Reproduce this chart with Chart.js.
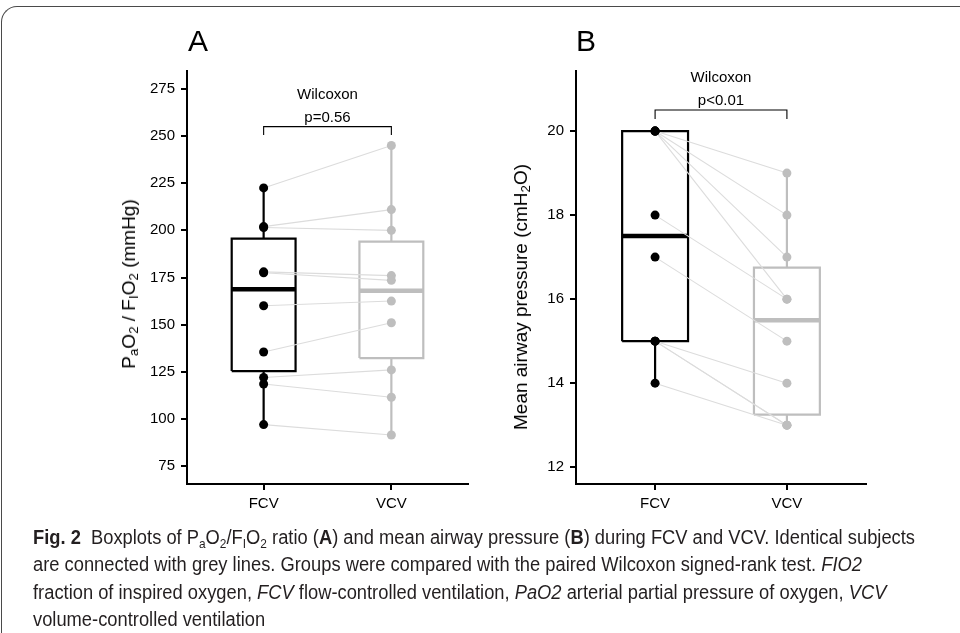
<!DOCTYPE html>
<html><head><meta charset="utf-8">
<script src="https://cdn.jsdelivr.net/npm/chart.js@4.4.1/dist/chart.umd.min.js"></script>
<style>
html,body{margin:0;padding:0;background:#fff;}
body{width:960px;height:633px;position:relative;overflow:hidden;font-family:"Liberation Sans",Arial,sans-serif;color:#000;}
.frame{position:absolute;left:1px;top:6px;width:1000px;height:700px;border-top:1.5px solid #4a4a4a;border-left:1.5px solid #4a4a4a;border-top-left-radius:16px;box-sizing:border-box;}
canvas{position:absolute;top:0;}
#cA{left:0;}
#cB{left:480px;}
.ptitle{position:absolute;font-size:30px;line-height:30px;transform:translate(-50%,-50%);}
.ytitle{position:absolute;font-size:19px;white-space:nowrap;transform:translate(-50%,-50%) rotate(-90deg);}
.ytitle sub{font-size:70%;vertical-align:-0.25em;line-height:0;}
.caption{position:absolute;left:33px;top:524px;font-family:"Liberation Sans Narrow","Liberation Sans",Arial,sans-serif;font-size:19.5px;line-height:27.3px;color:#231f20;}
.caption .ln{white-space:nowrap;transform-origin:0 50%;display:block;width:max-content;}
.caption sub{font-size:65%;vertical-align:-0.3em;line-height:0;}
</style>
</head><body>
<div class="frame"></div>
<canvas id="cA" width="480" height="530"></canvas>
<canvas id="cB" width="480" height="530"></canvas>
<div class="ptitle" style="left:198px;top:41px;">A</div>
<div class="ptitle" style="left:586px;top:41px;">B</div>
<div class="ytitle" style="left:129px;top:284px;">P<sub>a</sub>O<sub>2</sub> / F<sub>I</sub>O<sub>2</sub> (mmHg)</div>
<div class="ytitle" style="left:521px;top:297px;">Mean airway pressure (cmH<sub>2</sub>O)</div>
<div class="caption">
<span class="ln"><b>Fig. 2</b>&nbsp; Boxplots of P<sub>a</sub>O<sub>2</sub>/F<sub>I</sub>O<sub>2</sub> ratio (<b>A</b>) and mean airway pressure (<b>B</b>) during FCV and VCV. Identical subjects</span>
<span class="ln">are connected with grey lines. Groups were compared with the paired Wilcoxon signed-rank test. <i>FIO2</i></span>
<span class="ln">fraction of inspired oxygen, <i>FCV</i> flow-controlled ventilation, <i>PaO2</i> arterial partial pressure of oxygen, <i>VCV</i></span>
<span class="ln">volume-controlled ventilation</span>
</div>
<script>
// ---------- data ----------
const groups = ["FCV", "VCV"];
// Panel A: PaO2/FiO2 (mmHg), paired by subject
const pfFCV = [222.5, 202, 201.5, 178, 177.5, 160, 135.5, 122, 118.5, 97];
const pfVCV = [245, 211, 200, 176, 173.5, 162.5, 151, 126, 111.5, 91.5];
// Panel B: mean airway pressure (cmH2O), paired by subject
const pawFCV = [20, 20, 20, 20, 18, 17, 15, 15, 15, 14];
const pawVCV = [19, 18, 17, 16, 16, 15, 14, 13, 13, 13];
// tick labels
const ticksA = [75, 100, 125, 150, 175, 200, 225, 250, 275];
const ticksB = [12, 14, 16, 18, 20];
// test labels
const testName = "Wilcoxon";
const pLabelA = "p=0.56";
const pLabelB = "p<0.01";

// ---------- helpers ----------
function quantile(arr, q){
  const s = [...arr].sort((a,b)=>a-b);
  const pos = (s.length-1)*q, lo = Math.floor(pos), hi = Math.ceil(pos);
  return s[lo] + (s[hi]-s[lo])*(pos-lo);
}
function boxStats(arr){
  const q1 = quantile(arr,0.25), med = quantile(arr,0.5), q3 = quantile(arr,0.75);
  const iqr = q3-q1;
  const inside = arr.filter(v => v >= q1-1.5*iqr && v <= q3+1.5*iqr);
  return {q1, med, q3, lo: Math.min(...inside), hi: Math.max(...inside)};
}
const FONT = '"Liberation Sans", Arial, sans-serif';
const BLACK = '#000000', GREY = '#bebebe', LINEGREY = '#dcdcdc';

function buildDatasets(fcv, vcv, bracket){
  const ds = [];
  const colors = [BLACK, GREY];
  [fcv, vcv].forEach((vals, gi) => {
    const x = gi + 1, c = colors[gi], st = boxStats(vals), hw = 0.25;
    // box
    ds.push({type:'line', data:[{x:x-hw,y:st.q1},{x:x+hw,y:st.q1},{x:x+hw,y:st.q3},{x:x-hw,y:st.q3},{x:x-hw,y:st.q1}],
      borderColor:c, borderWidth:2.2, backgroundColor:'#ffffff', fill:false, pointRadius:0, order:5, borderJoinStyle:'miter', tension:0});
    // median
    ds.push({type:'line', data:[{x:x-hw,y:st.med},{x:x+hw,y:st.med}], borderColor:c, borderWidth:4.5, pointRadius:0, order:4, borderCapStyle:'butt'});
    // whiskers
    ds.push({type:'line', data:[{x:x,y:st.q3},{x:x,y:st.hi}], borderColor:c, borderWidth:2.2, pointRadius:0, order:4});
    ds.push({type:'line', data:[{x:x,y:st.q1},{x:x,y:st.lo}], borderColor:c, borderWidth:2.2, pointRadius:0, order:4});
  });
  // paired lines
  fcv.forEach((v,i) => {
    ds.push({type:'line', data:[{x:1,y:v},{x:2,y:vcv[i]}], borderColor:LINEGREY, borderWidth:1.1, pointRadius:0, order:3});
  });
  // points
  ds.push({type:'scatter', data:fcv.map(v=>({x:1,y:v})), backgroundColor:BLACK, borderColor:BLACK, pointRadius:4.5, borderWidth:0, order:1});
  ds.push({type:'scatter', data:vcv.map(v=>({x:2,y:v})), backgroundColor:GREY, borderColor:GREY, pointRadius:4.5, borderWidth:0, order:2});
  // significance bracket
  ds.push({type:'line', data:[{x:1,y:bracket.low},{x:1,y:bracket.high},{x:2,y:bracket.high},{x:2,y:bracket.low}],
    borderColor:BLACK, borderWidth:1.1, pointRadius:0, order:0, tension:0});
  return ds;
}

const annotPlugin = {
  id:'annot',
  afterDatasetsDraw(chart, args, opts){
    const {ctx, scales:{x,y}} = chart;
    const cx = x.getPixelForValue(1.5);
    const top = y.getPixelForValue(opts.bracketHigh);
    ctx.save();
    ctx.fillStyle = '#000';
    ctx.font = '15px ' + FONT;
    ctx.textAlign = 'center';
    ctx.textBaseline = 'middle';
    ctx.fillText(opts.p, cx, top - 9);
    ctx.fillText(opts.test, cx, top - 32);
    ctx.restore();
  }
};

function makeChart(id, fcv, vcv, yTicks, yMin, yMax, bracket, pLabel, yAxisWidth, padRight){
  return new Chart(document.getElementById(id), {
    data:{datasets: buildDatasets(fcv, vcv, bracket)},
    plugins:[annotPlugin],
    options:{
      responsive:false, animation:false,
      layout:{padding:{top:71, right:padRight, left:0, bottom:0}},
      plugins:{legend:{display:false}, tooltip:{enabled:false},
        annot:{bracketHigh:bracket.high, p:pLabel, test:testName}},
      elements:{line:{tension:0}},
      scales:{
        x:{type:'linear', min:0.4, max:2.6,
          afterBuildTicks: s => { s.ticks = groups.map((g,i)=>({value:i+1})); },
          afterFit: s => { s.height = 46; },
          ticks:{callback:(v)=>groups[v-1] ?? '', color:'#000', font:{family:FONT, size:15}, padding:5, maxRotation:0, autoSkip:false},
          grid:{display:true, drawOnChartArea:false, drawTicks:true, tickLength:6, color:'#000', lineWidth:2},
          border:{display:true, color:'#000', width:2}
        },
        y:{type:'linear', min:yMin, max:yMax,
          afterBuildTicks: s => { s.ticks = yTicks.map(v=>({value:v})); },
          afterFit: s => { s.width = yAxisWidth; },
          ticks:{color:'#000', font:{family:FONT, size:15}, padding:6},
          grid:{display:true, drawOnChartArea:false, drawTicks:true, tickLength:6, color:'#000', lineWidth:2},
          border:{display:true, color:'#000', width:2}
        }
      }
    }
  });
}

makeChart('cA', pfFCV, pfVCV, ticksA, 65.5, 284.5, {low:250.5, high:255}, pLabelA, 187, 12);
makeChart('cB', pawFCV, pawVCV, ticksB, 11.6, 21.43, {low:20.29, high:20.5}, pLabelB, 96, 94);

// caption line fitting (uniform horizontal scale so line 1 spans the reference width)
const lns = document.querySelectorAll('.caption .ln');
const w1 = lns[0].getBoundingClientRect().width;
const k = 882 / w1;
lns.forEach(l => { l.style.transform = 'scaleX(' + k + ')'; });
</script>
</body></html>
